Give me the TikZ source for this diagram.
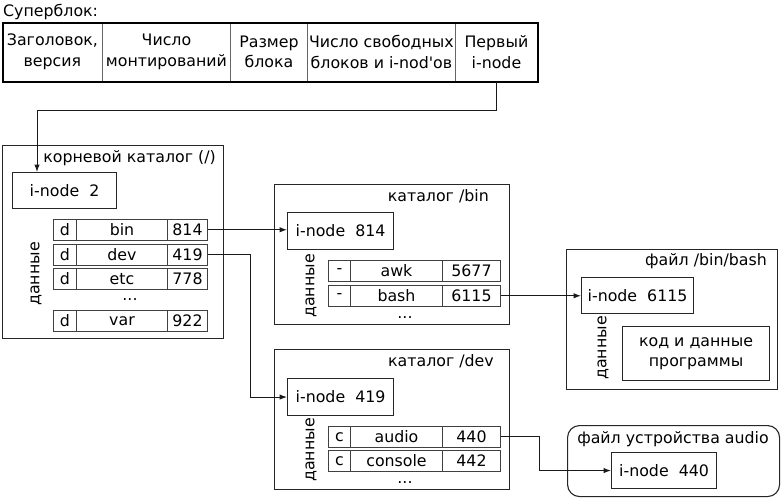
\documentclass[tikz,border=0pt]{standalone}
\usepackage{fontspec}
\setmainfont{DejaVu Sans}
\usetikzlibrary{arrows.meta}
\begin{document}
\begin{tikzpicture}[x=1pt,y=-1pt,
  every node/.style={font=\fontsize{15.8}{20.5}\selectfont},
  bx/.style={draw=black!85, line width=1.1pt, inner sep=0pt, anchor=north west},
  ib/.style={draw=black!85, line width=1.1pt, inner sep=0pt, anchor=north west},
  sbcell/.style={draw=black!60, line width=0.9pt, inner sep=0pt, anchor=north west, minimum height=59pt, align=center},
  cell/.style={draw=black!75, line width=1pt, inner sep=0pt, anchor=north west, minimum height=20.5pt},
  lbl/.style={inner sep=0pt},
  arr/.style={-{Latex[length=7.5pt,width=5.5pt]}, line width=1pt, draw=black!90}]
\useasboundingbox (0,0) rectangle (781,498);

% superblock
\node[lbl, anchor=base west] (sbt) at (3,16) {Суперблок:};
\node[sbcell, minimum width=100pt] (sb1) at (2,22) {Заголовок,\\версия};
\node[sbcell, minimum width=128pt] (sb2) at (102,22) {Число\\монтирований};
\node[sbcell, minimum width=77pt] (sb3) at (230,22) {Размер\\блока};
\node[sbcell, minimum width=148pt] (sb4) at (307,22) {Число свободных\\блоков и i-nod\textquotesingle ов};
\node[sbcell, minimum width=82pt] (sb5) at (455,22) {Первый\\i-node};
\node[draw=black, line width=2pt, inner sep=0pt, anchor=north west, minimum width=535pt, minimum height=59pt] (sb) at (2,22) {};

% root catalog
\node[bx, minimum width=221pt, minimum height=193pt] (root) at (2,145) {};
\node[lbl, anchor=base east] (roott) at (216,162) {корневой каталог (/)};
\node[ib, minimum width=104pt, minimum height=36pt] (in2) at (12,172) {i-node~~2};
\node[lbl, rotate=90] (rootd) at (36,274) {данные};
\node[cell, minimum width=23pt] (rbin1) at (53,219) {d};
\node[cell, minimum width=91pt] (rbin2) at (76,219) {bin};
\node[cell, minimum width=40pt] (rbin3) at (167,219) {814};
\node[cell, minimum width=23pt] (rdev1) at (53,244) {d};
\node[cell, minimum width=91pt] (rdev2) at (76,244) {dev};
\node[cell, minimum width=40pt] (rdev3) at (167,244) {419};
\node[cell, minimum width=23pt] (retc1) at (53,268) {d};
\node[cell, minimum width=91pt] (retc2) at (76,268) {etc};
\node[cell, minimum width=40pt] (retc3) at (167,268) {778};
\node[lbl, anchor=base] (rdots) at (130,300) {...};
\node[cell, minimum width=23pt] (rvar1) at (53,310) {d};
\node[cell, minimum width=91pt] (rvar2) at (76,310) {var};
\node[cell, minimum width=40pt] (rvar3) at (167,310) {922};

% /bin
\node[bx, minimum width=235pt, minimum height=140pt] (bin) at (274,184) {};
\node[lbl, anchor=base east] (bint) at (489,201) {каталог /bin};
\node[ib, minimum width=106pt, minimum height=37pt] (in814) at (287,212) {i-node~~814};
\node[lbl, rotate=90] (bind) at (311,286) {данные};
\node[cell, minimum width=22pt] (awk1) at (328,260) {-};
\node[cell, minimum width=92pt] (awk2) at (350,260) {awk};
\node[cell, minimum width=58pt] (awk3) at (442,260) {5677};
\node[cell, minimum width=22pt] (bash1) at (328,285) {-};
\node[cell, minimum width=92pt] (bash2) at (350,285) {bash};
\node[cell, minimum width=58pt] (bash3) at (442,285) {6115};
\node[lbl, anchor=base] (bdots) at (405,318) {...};

% /bin/bash
\node[bx, minimum width=211pt, minimum height=140pt] (bashf) at (566,249) {};
\node[lbl, anchor=base east] (basht) at (767,265) {файл /bin/bash};
\node[ib, minimum width=112pt, minimum height=36pt] (in6115) at (581,277) {i-node~~6115};
\node[lbl, rotate=90] (bashd) at (603,348) {данные};
\node[ib, minimum width=147pt, minimum height=54pt, align=center] (code) at (622,326) {код и данные\\программы};

% /dev
\node[bx, minimum width=235pt, minimum height=140pt] (dev) at (274,349) {};
\node[lbl, anchor=base east] (devt) at (494,366) {каталог /dev};
\node[ib, minimum width=106pt, minimum height=37pt] (in419) at (287,378) {i-node~~419};
\node[lbl, rotate=90] (devd) at (311,450) {данные};
\node[cell, minimum width=22pt] (aud1) at (328,426) {c};
\node[cell, minimum width=92pt] (aud2) at (350,426) {audio};
\node[cell, minimum width=58pt] (aud3) at (442,426) {440};
\node[cell, minimum width=22pt] (con1) at (328,450) {c};
\node[cell, minimum width=92pt] (con2) at (350,450) {console};
\node[cell, minimum width=58pt] (con3) at (442,450) {442};
\node[lbl, anchor=base] (ddots) at (405,483) {...};

% audio device file
\node[bx, rounded corners=12pt, minimum width=212pt, minimum height=71pt] (audf) at (567,425) {};
\node[lbl, anchor=base] (audt) at (673,443) {файл устройства audio};
\node[ib, minimum width=105pt, minimum height=36pt] (in440) at (611,452) {i-node~~440};

% connectors
\coordinate (c1) at (37,110);
\draw[arr] (sb5.south) |- (c1) -- (c1 |- in2.north);
\draw[arr] (rbin3.east) -- (rbin3.east -| in814.west);
\draw[arr] (rdev3.east) -- ++(42,0) |- (in419.west);
\draw[arr] (bash3.east) -- (bash3.east -| in6115.west);
\draw[arr] (aud3.east) -- ++(38,0) |- (in440.west);
\end{tikzpicture}
\end{document}
